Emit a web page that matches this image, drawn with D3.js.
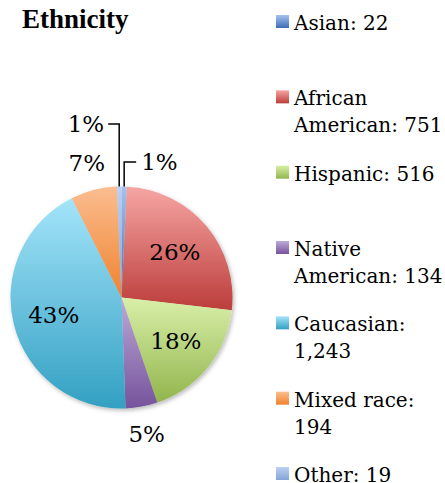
<!DOCTYPE html>
<html><head><meta charset="utf-8">
<script src="https://cdn.jsdelivr.net/npm/d3@7"></script>
<style>
html,body{margin:0;padding:0;background:#fff;overflow:hidden;}
svg{display:block;}
</style></head>
<body>
<svg id="chart" width="445" height="483"></svg>
<script>
const title = "Ethnicity";
const categories = ["Asian", "African American", "Hispanic", "Native American", "Caucasian", "Mixed race", "Other"];
const values = [22, 751, 516, 134, 1243, 194, 19];
const colorTop = ["#a6c2ef", "#f6a6a4", "#d9efa9", "#bcaad7", "#a3e4fa", "#fbbd90", "#bcd1f3"];
const colorBottom = ["#3e6eb6", "#bb3d3a", "#92b54c", "#76539c", "#33a0c2", "#ef832e", "#84a3d8"];

const svg = d3.select("#chart");
const W = 445, H = 483;
const cx = 121.5, cy = 297.5, R = 111;
const total = d3.sum(values);
const data = categories.map((c, i) => ({cat: c, value: values[i], i}));

const defs = svg.append("defs");
data.forEach(d => {
  const g = defs.append("linearGradient").attr("id", "g" + d.i)
    .attr("x1", 0).attr("y1", 0).attr("x2", 0).attr("y2", 1);
  g.append("stop").attr("offset", "0%").attr("stop-color", colorTop[d.i]);
  g.append("stop").attr("offset", "100%").attr("stop-color", colorBottom[d.i]);
});
const f = defs.append("filter").attr("id", "shadow").attr("x", "-20%").attr("y", "-20%").attr("width", "140%").attr("height", "140%");
f.append("feDropShadow").attr("dx", 1.5).attr("dy", 2).attr("stdDeviation", 2).attr("flood-color", "#000").attr("flood-opacity", 0.28);

// Title
svg.append("text").attr("x", 22).attr("y", 28)
  .attr("font-family", "Liberation Serif, serif").attr("font-weight", "bold")
  .attr("font-size", 27).attr("fill", "#000").text(title);

// Pie
const pie = d3.pie().sort(null).value(d => d.value);
const arcs = pie(data);
const arc = d3.arc().innerRadius(0).outerRadius(R);
const gPie = svg.append("g").attr("transform", `translate(${cx},${cy})`);
gPie.append("g").attr("filter", "url(#shadow)")
  .selectAll("path").data(arcs).join("path")
  .attr("d", arc)
  .attr("fill", d => `url(#g${d.data.i})`);

const pct = d => d3.format(".0%")(d.data.value / total);
const font = "DejaVu Serif, serif";

// inside labels for big slices, outside for small
const inner = d3.arc().innerRadius(R * 0.63).outerRadius(R * 0.63);
const outer = d3.arc().innerRadius(R * 1.25).outerRadius(R * 1.25);
const labels = gPie.append("g").attr("font-family", font).attr("font-size", 23).attr("fill", "#000").attr("text-anchor", "middle");
arcs.forEach(d => {
  const frac = d.data.value / total;
  if (frac >= 0.1) {
    const [x, y] = inner.centroid(d);
    labels.append("text").attr("x", x).attr("y", y + 8).text(pct(d));
  } else if (frac >= 0.02) {
    const [x, y] = outer.centroid(d);
    labels.append("text").attr("x", x).attr("y", y + 8).text(pct(d));
  }
});

// leader labels for tiny slices
const edge = d3.arc().innerRadius(R).outerRadius(R);
arcs.forEach(d => {
  const frac = d.data.value / total;
  if (frac >= 0.02) return;
  const [ex, ey] = edge.centroid(d);
  const mid = (d.startAngle + d.endAngle) / 2;
  const right = mid < Math.PI;
  const ly = right ? ey - 24.5 : ey - 62.5;
  const hx = right ? ex + 12 : ex - 11;
  gPie.append("path")
    .attr("d", `M${ex},${ey}V${ly}H${hx}`)
    .attr("fill", "none").attr("stroke", "#000").attr("stroke-width", 1.5);
  labels.append("text")
    .attr("x", right ? hx + 5 : hx - 4)
    .attr("y", ly + 8)
    .attr("text-anchor", right ? "start" : "end")
    .text(pct(d));
});

// Legend
const ly = d3.scalePoint().domain(categories).range([30, 482]);
const fmt = d3.format(",");
const lg = svg.append("g").attr("font-family", font).attr("font-size", 20).attr("fill", "#000");
const maxW = 156;
data.forEach(d => {
  const y = ly(d.cat);
  lg.append("rect").attr("x", 276).attr("y", y - 15).attr("width", 13).attr("height", 13)
    .attr("fill", `url(#g${d.i})`);
  const words = (d.cat + ": " + fmt(d.value)).split(" ");
  const t = lg.append("text").attr("x", 294).attr("y", y);
  let line = [], lineNo = 0;
  let ts = t.append("tspan").attr("x", 294).attr("y", y);
  words.forEach(w => {
    line.push(w);
    ts.text(line.join(" "));
    if (ts.node().getComputedTextLength() > maxW && line.length > 1) {
      line.pop();
      ts.text(line.join(" "));
      line = [w];
      lineNo++;
      ts = t.append("tspan").attr("x", 294).attr("y", y + lineNo * 27).text(w);
    }
  });
});
</script>
</body></html>
